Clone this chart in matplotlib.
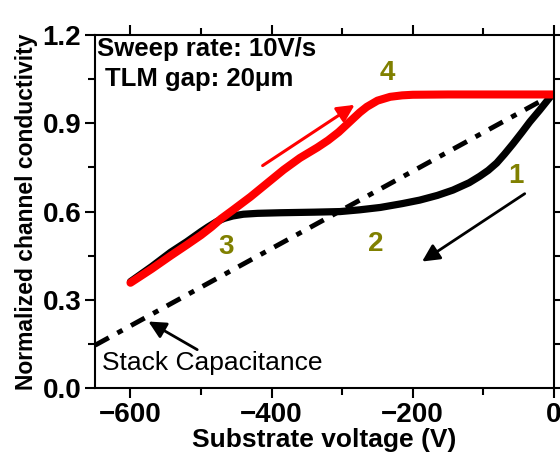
import matplotlib
matplotlib.use("Agg")
import matplotlib.pyplot as plt
import numpy as np

plt.rcParams['font.family'] = ['Liberation Sans', 'DejaVu Sans']

# sweep 1 -> 2 -> 3 (black, 0 V down to -600 V)
down_v = [0, -5, -10, -20, -34, -45, -58, -70, -81, -93, -105, -120, -143, -165, -190,
          -215, -246, -275, -303, -340, -388, -420, -440, -455, -467, -477, -490, -500,
          -520, -543, -570, -600]
down_g = [0.998, 0.99, 0.975, 0.945, 0.905, 0.87, 0.83, 0.795, 0.765, 0.74, 0.72,
          0.698, 0.673, 0.655, 0.639, 0.627, 0.614, 0.606, 0.600, 0.598, 0.596, 0.594,
          0.591, 0.585, 0.577, 0.567, 0.548, 0.532, 0.498, 0.462, 0.413, 0.362]

# sweep 3 -> 4 (red, -600 V back up to 0 V)
up_v = [-600, -570, -543, -520, -500, -485, -472, -455, -430, -406, -383, -360, -335,
        -320, -305, -288, -275, -265, -250, -232, -215, -200, -150, 0]
up_g = [0.358, 0.405, 0.450, 0.487, 0.520, 0.548, 0.575, 0.605, 0.650, 0.697, 0.742,
        0.782, 0.818, 0.842, 0.870, 0.908, 0.937, 0.956, 0.977, 0.990, 0.995, 0.997,
        0.998, 0.998]

# stack capacitance reference line
cap_v = [-650, 0]
cap_g = [0.146, 1.0]

labels = ["1", "2", "3", "4"]
label_v = [-54, -253, -464, -236]
label_g = [0.72, 0.49, 0.48, 1.07]

fig = plt.figure(figsize=(5.6, 4.55), dpi=100)
ax = fig.add_axes([0.17, 0.147, 0.819, 0.776])

ax.plot(cap_v, cap_g, color='black', lw=3.5, dashes=(3.2, 2.0, 1.2, 2.0))
ax.plot(down_v, down_g, color='black', lw=5.2, solid_capstyle='round',
        solid_joinstyle='round')
ax.plot(up_v, up_g, color='red', lw=5.8, solid_capstyle='round',
        solid_joinstyle='round')

# direction arrows
ax.annotate('', xy=(-279, 0.968), xytext=(-416, 0.751),
            arrowprops=dict(arrowstyle='-|>', color='red', lw=2.2, mutation_scale=26))
ax.annotate('', xy=(-190, 0.425), xytext=(-38, 0.666),
            arrowprops=dict(arrowstyle='-|>', color='black', lw=2.0, mutation_scale=26))
ax.annotate('', xy=(-578, 0.231), xytext=(-502, 0.126),
            arrowprops=dict(arrowstyle='-|>', color='black', lw=2.0, mutation_scale=26))

for t, v, g in zip(labels, label_v, label_g):
    ax.text(v, g, t, color='#808000', fontsize=20, fontweight='bold', ha='center', va='center')

ax.text(-640, 0.085, "Stack Capacitance", fontsize=19, ha='left', va='center')
ax.text(-648, 1.152, "Sweep rate: 10V/s", fontsize=18.5, fontweight='bold', ha='left', va='center')
ax.text(-636, 1.052, "TLM gap: 20\u03bcm", fontsize=18.5, fontweight='bold', ha='left', va='center')

ax.set_xlim(-650, 0)
ax.set_ylim(0, 1.2)
ax.set_xticks([-600, -400, -200, 0])
ax.set_xticks([-500, -300, -100], minor=True)
ax.set_yticks([0.0, 0.3, 0.6, 0.9, 1.2])
ax.set_yticks([0.15, 0.45, 0.75, 1.05], minor=True)
ax.set_yticklabels(["0.0", "0.3", "0.6", "0.9", "1.2"])
ax.tick_params(which='both', direction='out', top=True, right=True, width=1.5,
               labelsize=20)
ax.tick_params(which='major', length=7, pad=3)
ax.tick_params(which='minor', length=5)
for lab in ax.get_xticklabels() + ax.get_yticklabels():
    lab.set_fontweight('bold')
for s in ax.spines.values():
    s.set_linewidth(1.5)

ax.set_xlabel("Substrate voltage (V)", fontsize=19, fontweight='bold', labelpad=0)
ax.set_ylabel("Normalized channel conductivity", fontsize=16.5, fontweight='bold', labelpad=3)

fig.savefig("out.png", dpi=100)
